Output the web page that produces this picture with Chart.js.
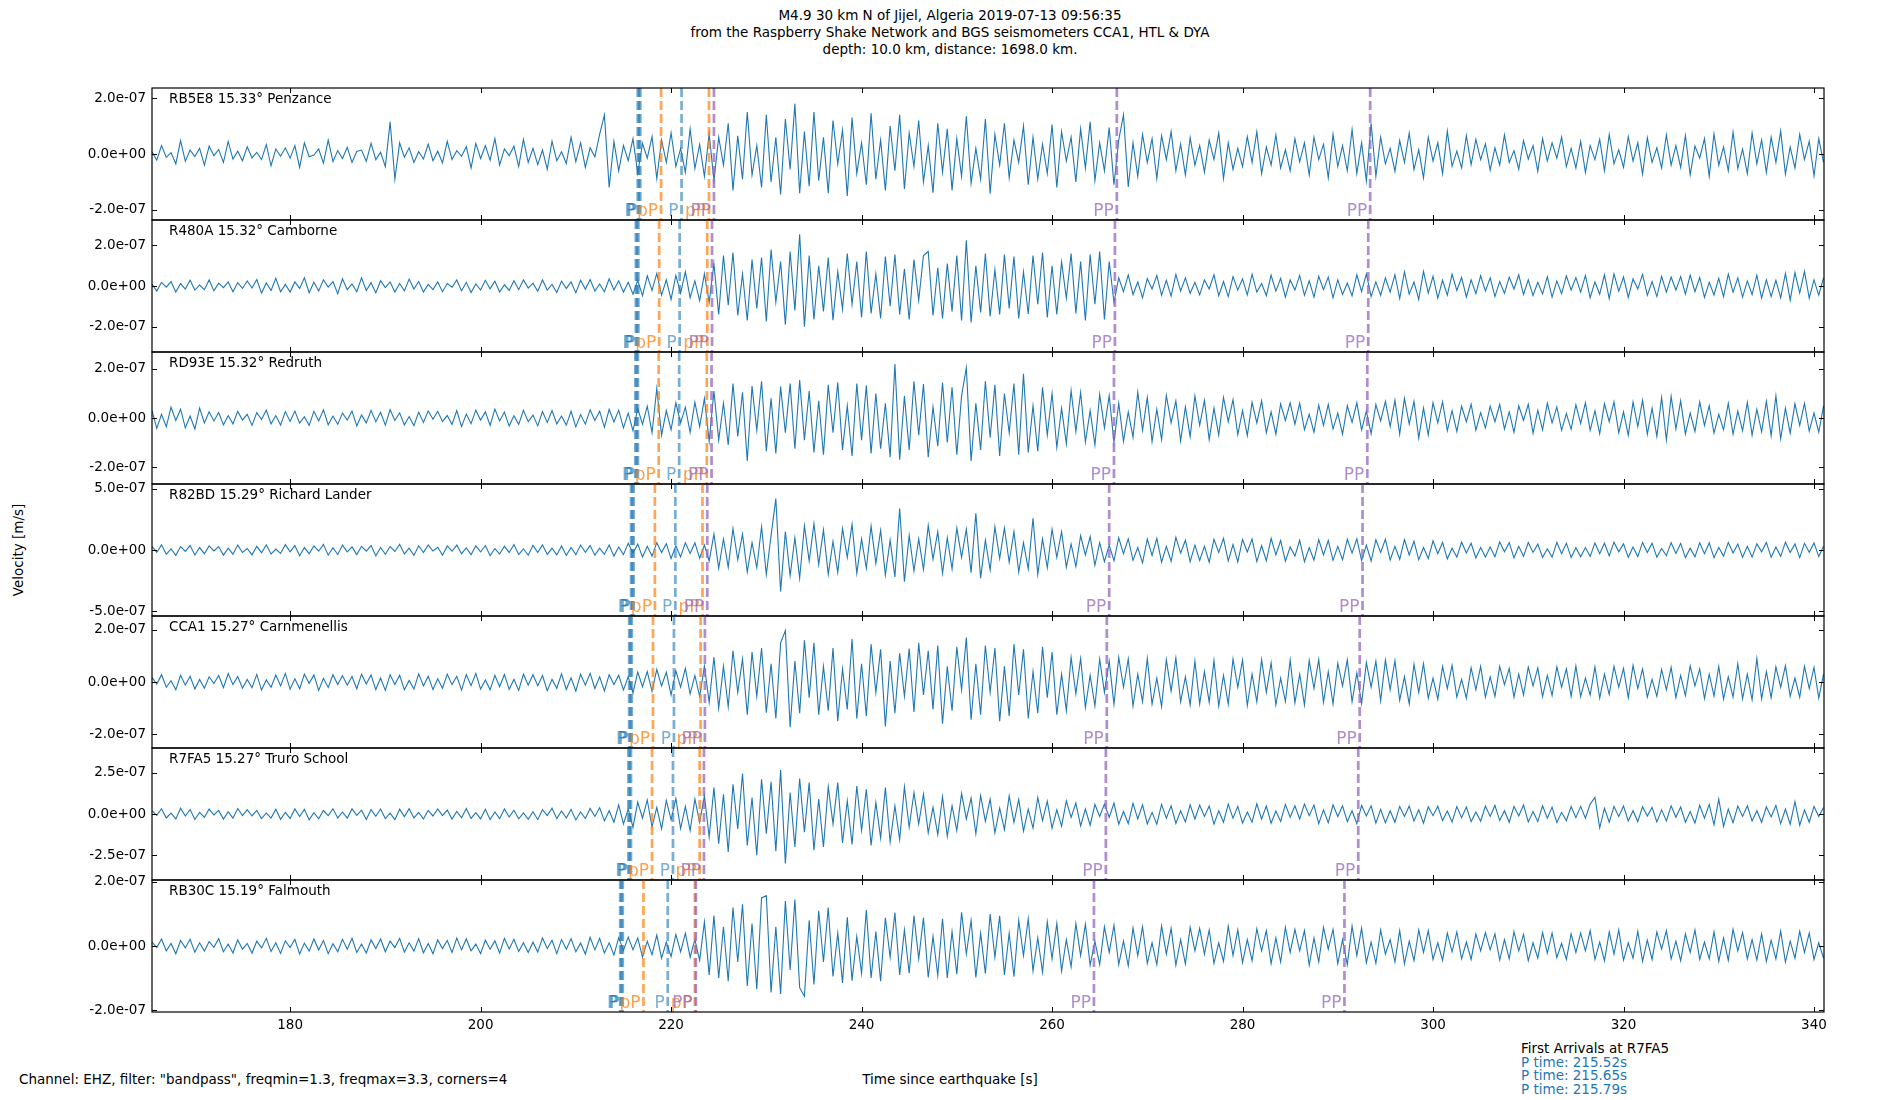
<!DOCTYPE html>
<html>
<head>
<meta charset="utf-8">
<script src="https://cdn.jsdelivr.net/npm/chart.js@4.4.0/dist/chart.umd.min.js"></script>
<style>
    body { margin: 0; background: #fff; }
    #fig { position: relative; width: 1900px; height: 1100px; overflow: hidden; background: #fff; font-family: "DejaVu Sans", sans-serif; color: #000; }
    .txt { position: absolute; font-size: 13.5px; line-height: 17px; white-space: pre; }
    canvas { position: absolute; left: 0; }
</style>
</head>
<body>
<div id="fig">
    <div class="txt" style="left:0;top:7px;width:1900px;text-align:center;">M4.9 30 km N of Jijel, Algeria 2019-07-13 09:56:35
from the Raspberry Shake Network and BGS seismometers CCA1, HTL &amp; DYA
depth: 10.0 km, distance: 1698.0 km.</div>
    <div class="txt" style="left:18px;top:550px;transform:translate(-50%,-50%) rotate(-90deg);">Velocity [m/s]</div>
    <div class="txt" style="left:19px;top:1071px;">Channel: EHZ, filter: "bandpass", freqmin=1.3, freqmax=3.3, corners=4</div>
    <div class="txt" style="left:0;top:1071px;width:1900px;text-align:center;">Time since earthquake [s]</div>
    <div class="txt" style="left:1521px;top:1042px;line-height:13.5px;">First Arrivals at R7FA5
<span style="color:#1f77b4">P time: 215.52s
P time: 215.65s
P time: 215.79s</span></div>
</div>
<script>
// x axis
const xMin = 165.5;
const xMax = 341.05;
const xTicks = [180, 200, 220, 240, 260, 280, 300, 320, 340];

// samples every 0.5 s starting at 165.5 s, values in nm/s
const sampleStart = 165.5;
const sampleStep = 0.5;

const stations = [
    "RB5E8 15.33° Penzance",
    "R480A 15.32° Camborne",
    "RD93E 15.32° Redruth",
    "R82BD 15.29° Richard Lander",
    "CCA1 15.27° Carnmenellis",
    "R7FA5 15.27° Truro School",
    "RB30C 15.19° Falmouth"
];

const yLimits = [2.36e-7, 3.25e-7, 2.69e-7, 5.4e-7, 2.53e-7, 4.0e-7, 2.06e-7];
const yTicks = [
    [-2e-7, 0, 2e-7],
    [-2e-7, 0, 2e-7],
    [-2e-7, 0, 2e-7],
    [-5e-7, 0, 5e-7],
    [-2e-7, 0, 2e-7],
    [-2.5e-7, 0, 2.5e-7],
    [-2e-7, 0, 2e-7]
];

// phase arrivals (s)
const phaseNames = ["P", "P", "P", "pP", "P", "pP", "PP", "PP", "PP"];
const arrRB5E8 = [216.5, 216.63, 216.77, 218.95, 221.1, 223.98, 224.5, 266.8, 293.4];
const arrR480A = [216.3, 216.43, 216.57, 218.75, 220.9, 223.8, 224.3, 266.6, 293.2];
const arrRD93E = [216.25, 216.38, 216.52, 218.7, 220.85, 223.75, 224.25, 266.5, 293.1];
const arrR82BD = [215.8, 215.93, 216.07, 218.3, 220.45, 223.3, 223.8, 266.0, 292.6];
const arrCCA1 = [215.6, 215.73, 215.87, 218.1, 220.3, 223.1, 223.55, 265.75, 292.3];
const arrR7FA5 = [215.52, 215.65, 215.79, 218.0, 220.2, 223.0, 223.45, 265.65, 292.15];
const arrRB30C = [214.66, 214.79, 214.93, 217.1, 219.65, 222.5, 222.6, 264.4, 290.7];

const velRB5E8 = [
    8,-22,30,-12,5,-35,48,-26,14,-9,20,-40,28,-6,16,-30,45,-18,10,-24,
    26,-14,6,-20,34,-42,18,-8,22,-15,30,-48,40,-10,-4,18,-33,50,-27,12,
    -16,24,-30,9,14,-26,38,-20,6,-45,115,-90,40,-12,22,-30,8,-18,35,-24,
    10,-32,45,-20,12,-8,26,-50,38,-16,30,-22,55,-40,18,-6,28,-45,52,-30,
    20,-38,14,-55,46,-24,8,-34,60,-28,40,-48,22,-10,70,140,-120,45,-60,30,
    -24,55,-70,38,-15,62,-88,50,-30,75,-45,20,-66,90,-52,34,-80,72,-95,60,
    -40,110,-130,65,-90,150,-75,30,-120,140,-100,60,-145,125,-55,180,-140,80,-115,150,
    -95,60,-140,120,-35,85,-150,130,-70,40,-110,146,-90,50,-130,100,-60,140,-125,75,
    -45,120,-100,30,-138,110,-65,90,-130,55,-80,135,-105,20,-90,125,-142,70,-40,110,
    -85,50,-30,100,-110,60,-90,35,-70,105,-120,80,-25,60,-100,90,-50,115,-95,40,
    -60,95,-110,50,140,-118,40,-80,70,-30,55,-88,66,-20,80,-60,35,-75,58,-40,
    30,-65,50,-20,75,-88,40,-55,20,-45,62,-30,80,-70,25,-40,68,-50,15,-60,
    55,-28,40,-75,60,-20,35,-85,70,-45,30,-60,88,-70,40,-96,110,-80,60,-35,
    20,-62,48,-30,75,-55,15,-85,60,-25,40,-70,82,-44,10,-50,66,-38,52,-20,
    36,-58,22,-40,68,-30,12,-55,48,-18,30,-62,55,-25,40,-15,60,-45,20,-50,
    45,-66,30,-20,52,-60,70,-35,15,-48,62,-25,40,-72,58,-30,22,-50,68,-40,
    30,-48,66,-75,28,-15,55,-80,72,-40,25,-60,78,-52,18,-70,75,-35,50,-66,
    60,-30,82,-72,25,-50,70,-20,45,-78,55,-30
];
const velR480A = [
    10,-25,18,-6,22,-30,12,-15,28,-20,5,-18,30,-24,14,-8,20,-28,16,-12,
    25,-10,32,-35,15,-22,38,-28,8,-30,20,-12,40,-33,18,-25,30,-5,22,-38,
    35,-18,10,-28,40,-22,16,-34,26,-8,20,-30,12,-24,34,-15,22,-30,8,-18,
    20,-28,12,-6,30,-24,18,-32,10,-20,28,-14,24,-30,6,-22,26,-18,30,-10,
    14,-26,30,-20,8,-32,24,-12,20,-34,28,-16,32,-25,10,-28,36,-20,26,-30,
    18,-40,28,-48,50,-22,62,-45,30,-66,52,-35,70,-58,25,-72,60,-80,110,-140,
    150,-95,165,-145,60,-170,130,-110,140,-175,180,-80,120,-190,170,-120,255,-200,150,-165,
    100,-125,140,-168,70,-115,160,-90,120,-155,170,-135,60,-160,145,-100,155,-140,85,-165,
    130,-70,150,170,-145,90,-160,110,-125,150,-170,225,-180,100,-130,160,-150,80,-140,155,
    -110,145,-160,70,-138,150,-90,165,-155,100,-140,118,-60,160,-135,120,-170,155,-90,170,
    -165,120,-80,40,-28,55,-42,20,-58,36,-15,52,-45,28,-50,57,-24,40,-36,18,
    -44,30,-15,55,-48,22,-52,46,-20,35,-44,58,-30,12,-47,53,-25,38,-55,30,
    -20,52,-46,25,-55,48,-18,44,-58,30,-42,15,-48,55,-28,60,-52,20,-46,40,
    -30,56,-62,70,-40,20,-66,72,-35,48,-60,28,-45,58,-22,42,-54,30,-38,50,
    -25,40,-52,22,-36,44,-15,55,-42,30,-47,18,-40,46,-55,25,-38,50,-20,41,
    -30,52,-58,20,-40,55,-62,60,-25,44,-56,35,-15,58,-46,22,-52,47,-30,44,
    -20,46,-40,54,-28,42,-56,18,-44,38,-52,58,-30,40,-55,25,-42,53,-60,30,
    -52,28,-58,62,-70,66,-35,72,-60,30,-45,40
];
const velRD93E = [
    30,-42,15,-35,44,-10,36,-40,8,-45,40,-20,25,-12,22,-28,10,-24,27,-8,
    15,-30,22,-6,32,-24,10,-29,26,-14,28,-21,5,-30,27,-12,33,-28,8,-26,
    20,-8,28,-32,12,-20,31,-15,23,-29,34,-10,21,-28,6,-31,24,-18,29,-5,
    27,-14,10,-26,30,-35,16,-23,32,-8,25,-30,36,-12,24,-33,9,-26,31,-15,
    12,-32,26,-18,30,-24,8,-29,27,-36,14,-25,34,-10,28,-38,35,-16,32,-40,
    20,-52,38,-25,48,-60,120,-70,30,-48,62,-20,44,-58,65,-35,80,-95,110,-90,
    60,-110,140,-75,105,-175,130,-50,150,-135,80,-145,128,-60,140,-125,155,-90,110,-140,
    70,-150,135,-60,145,-130,50,-155,140,-90,132,-145,100,-125,60,-160,220,-170,90,-130,
    150,-70,138,-160,45,-115,145,-100,125,-150,90,205,-175,60,-130,150,-80,135,-155,100,
    -60,140,-150,180,-140,50,-135,125,-70,100,-120,40,-105,112,-55,104,-98,30,-110,96,
    -40,92,-100,60,-95,25,-78,105,-50,84,-96,35,-88,92,-20,70,-94,45,-76,90,
    -30,72,-88,40,-70,84,-15,75,-68,30,-72,64,-20,70,-60,25,-66,58,-10,62,
    -25,60,-48,15,-58,52,-30,55,-45,20,-66,50,-18,62,-48,28,-64,55,-12,68,
    -35,72,-66,80,-25,68,-82,40,-70,62,-20,66,-52,30,-55,48,-15,56,-50,22,
    -40,48,-15,55,-45,25,-58,50,-10,56,-62,32,-48,60,-20,45,-50,18,-46,54,
    -22,62,-50,30,-64,58,-15,66,-60,25,-70,65,-35,72,-66,40,-75,84,-90,88,
    -45,70,-65,20,-55,66,-30,50,-62,15,-48,60,-66,28,-52,64,-70,35,-56,68,
    -72,90,-85,40,-62,58,-30,60,-54,20,-58,50
];
const velR82BD = [
    30,-18,42,-35,10,-44,28,-12,36,-41,20,-30,33,-8,28,-42,15,-34,40,-20,
    12,-40,30,-22,42,-33,8,-28,44,-15,36,-47,20,-30,34,-10,46,-42,18,-37,
    40,-15,25,-38,30,-10,36,-48,20,-35,28,-12,46,-32,15,-44,35,-20,42,-8,
    22,-42,33,-10,40,-30,18,-38,34,-16,37,-46,12,-33,30,-20,44,-37,10,-43,
    38,-20,42,-36,14,-40,33,-44,20,-38,41,-18,36,-42,15,-35,40,-50,24,-38,
    55,-25,48,-58,30,-50,60,-20,52,-70,35,-56,60,-28,58,-68,40,-90,130,-150,
    90,-140,175,-80,130,-180,60,-145,190,-200,120,420,-340,150,-210,100,-230,200,-90,215,
    -120,165,-200,70,-185,175,-60,210,-190,90,-150,195,-110,160,-205,80,-220,340,-260,120,
    -170,90,-160,200,-75,150,-190,100,-155,180,-60,170,-185,300,-230,80,-165,190,-70,180,
    -100,150,-180,60,-155,260,-200,90,-145,170,-60,150,-140,50,-135,118,-40,110,-125,60,
    -95,40,-88,100,-30,92,-85,20,-105,90,-45,95,-100,30,-92,104,-25,80,-96,40,
    -85,30,-100,88,-20,95,-90,45,-98,86,-15,90,-95,35,-88,96,-40,78,-92,25,
    -50,80,-95,20,-82,86,-40,78,-85,30,-80,88,-25,92,-86,40,-90,84,-20,88,
    -82,30,-76,85,-40,72,-80,20,-70,75,-30,62,-72,15,-58,64,-25,55,-65,20,
    -58,25,-55,66,-15,60,-64,30,-52,61,-20,48,-60,10,-58,62,-30,56,-62,18,
    -55,20,-52,58,-30,55,-48,64,-15,50,-60,25,-54,62,-20,56,-58,12,-46,60,
    -28,54,-62,15,-56,60,-30,58,-64,20,-50,62,-25,48,-60,30,-58,50,-15,62,
    -60,25,-52,64,-20,50,-62,55,-18,58,-54,30
];
const velCCA1 = [
    18,-8,28,-20,5,-30,26,-12,22,-27,10,-24,20,-6,25,-22,32,-10,21,-24,
    10,-22,29,-31,8,-20,27,-15,33,-28,12,-26,30,-5,27,-32,14,-21,28,-10,
    24,-12,21,-26,30,-8,27,-29,15,-32,28,-10,26,-30,6,-27,31,-15,22,-29,
    12,-24,30,-10,22,-31,28,-14,33,-27,8,-30,26,-18,29,-28,10,-32,30,-12,
    28,-14,25,-33,10,-24,31,-29,16,-35,30,-12,33,-25,20,-34,28,-10,26,-30,
    20,-42,38,-18,40,-36,48,-15,37,-50,44,-20,52,-46,25,-55,60,-78,95,-100,
    60,-95,120,-40,88,-125,115,-55,130,-118,70,-140,150,197,-173,80,-120,160,-60,150,
    -125,60,-110,130,-150,50,-105,165,-140,70,-130,145,-40,125,-170,80,-120,110,-55,128,
    -115,150,-50,120,-105,140,-160,60,-110,135,-30,170,-145,70,-125,140,-40,130,-150,60,
    -130,145,-50,125,-140,40,-120,135,-60,115,-125,30,-110,95,-45,90,-98,25,-92,88,
    -40,80,-86,95,-20,88,-92,30,-75,90,-85,15,-94,86,-35,92,-76,20,-88,80,
    -84,40,-78,82,-92,25,-85,88,-20,84,-90,30,-76,86,-40,74,-88,15,-75,85,
    -80,30,-88,82,-25,86,-78,40,-84,72,-15,85,-76,35,-82,74,-20,80,-72,84,
    -30,82,-70,20,-84,68,-40,70,-62,15,-66,60,-25,64,-58,10,-62,55,-30,60,
    -58,20,-55,60,-10,52,-58,30,-50,57,-15,54,-56,25,-52,58,-20,50,-55,61,
    -56,15,-50,58,-62,30,-48,60,-20,52,-60,64,-25,50,-58,10,-55,48,-30,56,
    -60,25,-52,62,-15,50,-64,30,-54,60,-66,20,-58,70,-65,30,-68,90,-65,40,
    -60,58,-20,62,-55,15,-58,60,-25,56,-62,30
];
const velR7FA5 = [
    20,-8,32,-24,5,-30,35,-12,27,-33,10,-20,30,-6,22,-31,14,-25,33,-10,
    26,-12,22,-28,6,-25,29,-32,10,-27,31,-15,28,-35,8,-29,21,-10,32,-24,
    12,-25,31,-8,23,-33,27,-14,30,-28,5,-34,29,-16,32,-24,10,-30,22,-12,
    30,-10,24,-31,15,-23,33,-27,8,-30,29,-34,12,-28,31,-18,23,-29,6,-32,
    14,-33,26,-10,35,-28,18,-24,28,-36,12,-27,34,-15,38,-42,20,-50,55,-60,
    30,-80,72,-25,85,-78,40,-90,82,-35,95,-88,45,-100,92,-50,110,-140,160,-180,
    120,-230,180,-90,245,-190,100,-250,210,-120,195,-225,267,-300,130,-200,215,-110,190,-220,
    90,-200,165,-60,190,-175,80,-185,170,-100,150,-190,70,-145,160,-170,50,-155,165,-80,
    130,-60,120,-115,40,-125,105,-135,50,-100,125,-30,96,-120,112,-45,90,-115,35,-95,
    110,-50,88,-104,30,-85,100,-40,78,-86,25,-74,80,-20,66,-72,30,-68,58,-15,
    60,-20,66,-62,15,-58,64,-30,56,-60,10,-62,58,-25,50,-57,20,-48,55,-30,
    54,-15,48,-62,20,-50,60,-25,46,-55,12,-50,62,-30,48,-56,18,-45,58,-20,
    50,-30,60,-10,54,-58,25,-52,56,-15,50,-46,20,-58,52,-12,50,-55,28,-52,
    20,-50,46,-15,48,-42,25,-56,44,-10,47,-40,18,-48,45,-22,42,-46,12,-44,
    48,-15,52,-40,20,-50,46,-12,55,-48,15,-46,50,-25,42,-52,10,-40,45,-22,
    46,-25,60,100,-85,35,-50,46,-15,48,-42,20,-46,44,-12,40,-48,25,-42,50,
    -20,42,-50,15,-55,52,-25,58,-66,90,-75,30,-52,48,-15,50,-42,20,-50,44,
    -18,52,-58,30,-62,75,-68,25,-50,46,-15,40
];
const velRB30C = [
    12,-5,22,-15,8,-24,17,-6,21,-19,10,-16,14,-4,23,-18,6,-22,19,-10,
    8,-22,15,-6,24,-17,10,-23,16,-5,21,-25,9,-16,22,-12,17,-24,7,-18,
    21,-10,24,-20,6,-22,19,-8,22,-18,15,-5,24,-19,10,-16,23,-21,8,-24,
    19,-8,17,-20,25,-12,22,-15,6,-24,18,-10,16,-22,24,-9,21,-17,10,-20,
    12,-19,25,-8,18,-24,20,-10,23,-18,9,-25,27,-12,24,-22,10,-28,26,-14,
    28,-12,25,-35,15,-27,34,-38,12,-33,36,-18,40,-35,20,-45,75,-90,95,-100,
    60,-110,120,-50,130,-125,70,-135,150,157,-145,60,-150,140,-75,145,-130,-157,80,-120,
    110,-50,120,-95,40,-115,90,-108,30,-85,112,-100,45,-110,88,-35,104,-90,50,-85,
    95,-40,88,-98,30,-92,85,-100,45,-88,105,-25,80,-98,40,-86,100,-35,94,-90,
    40,-96,80,-30,85,-78,25,-82,75,-40,70,-78,20,-65,70,-30,68,-60,15,-58,
    60,-20,65,-58,15,-62,56,-30,60,-54,10,-58,62,-25,55,-60,20,-56,58,-15,
    55,-25,50,-54,10,-48,62,-30,50,-52,20,-46,54,-15,48,-55,25,-50,58,-20,
    52,-15,48,-60,25,-50,58,-10,52,-55,20,-58,62,-30,56,-52,12,-54,50,-25,
    20,-50,48,-56,15,-46,50,-20,48,-42,10,-45,40,-18,44,-40,12,-42,38,-15,
    42,-12,38,-44,20,-40,45,-15,36,-46,10,-38,42,-22,40,-36,8,-42,38,-20,
    40,-15,48,-42,12,-46,44,-25,50,-44,10,-38,46,-48,18,-42,44,-10,48,-40,
    15,-46,38,-20,50,-42,12,-40,44,-48,25,-45,52,-15,42,-40,20,-44,38,-48,
    18,-40,46,-50,15,-38,46,-20,40,-42,10,-38
];

const traces = [velRB5E8, velR480A, velRD93E, velR82BD, velCCA1, velR7FA5, velRB30C];
const arrivals = [arrRB5E8, arrR480A, arrRD93E, arrR82BD, arrCCA1, arrR7FA5, arrRB30C];

const phaseLine = { P: 'rgba(31,119,180,0.6)', pP: 'rgba(255,127,14,0.7)', PP: 'rgba(148,103,189,0.75)' };
const phaseText = { P: 'rgba(31,119,180,0.6)', pP: 'rgba(255,127,14,0.75)', PP: 'rgba(148,103,189,0.75)' };
const FONT = '"DejaVu Sans", sans-serif';

// 2.0e-07 style labels
function sciLabel(v) {
    if (v === 0) return '0.0e+00';
    return v.toExponential(1).replace(/e([+-])(\d)$/, 'e$10$2');
}

// frame, inward ticks, station name and phase markers
function panelPlugin(k) {
    return {
        id: 'panel' + k,
        afterDatasetsDraw(chart) {
            const { ctx, chartArea: a } = chart;
            const x = chart.scales.x;
            ctx.save();
            ctx.lineWidth = 2.7;
            ctx.setLineDash([9, 4]);
            arrivals[k].forEach((t, i) => {
                const px = x.getPixelForValue(t);
                ctx.strokeStyle = phaseLine[phaseNames[i]];
                ctx.beginPath();
                ctx.moveTo(px, a.top);
                ctx.lineTo(px, a.bottom);
                ctx.stroke();
            });
            ctx.setLineDash([]);
            ctx.font = '17px ' + FONT;
            ctx.textAlign = 'right';
            ctx.textBaseline = 'alphabetic';
            arrivals[k].forEach((t, i) => {
                ctx.fillStyle = phaseText[phaseNames[i]];
                ctx.fillText(phaseNames[i], x.getPixelForValue(t) - 3, a.bottom - 4);
            });
            ctx.restore();
        },
        afterDraw(chart) {
            const { ctx, chartArea: a } = chart;
            const x = chart.scales.x, y = chart.scales.y;
            ctx.save();
            ctx.strokeStyle = '#000';
            ctx.lineWidth = 1.2;
            ctx.strokeRect(a.left, a.top, a.right - a.left, a.bottom - a.top);
            ctx.lineWidth = 1;
            ctx.beginPath();
            xTicks.forEach(v => {
                const px = Math.round(x.getPixelForValue(v)) + 0.5;
                ctx.moveTo(px, a.top); ctx.lineTo(px, a.top + 5);
                ctx.moveTo(px, a.bottom); ctx.lineTo(px, a.bottom - 5);
            });
            yTicks[k].forEach(v => {
                const py = Math.round(y.getPixelForValue(v)) + 0.5;
                ctx.moveTo(a.left, py); ctx.lineTo(a.left + 5, py);
                ctx.moveTo(a.right, py); ctx.lineTo(a.right - 5, py);
            });
            ctx.stroke();
            ctx.fillStyle = '#000';
            ctx.font = '13.5px ' + FONT;
            ctx.textAlign = 'left';
            ctx.textBaseline = 'middle';
            ctx.fillText(stations[k], a.left + 17, a.top + 11);
            ctx.restore();
        }
    };
}

const fig = document.getElementById('fig');
stations.forEach((name, k) => {
    const last = k === stations.length - 1;
    const canvas = document.createElement('canvas');
    canvas.width = 1900;
    canvas.height = last ? 172 : 152;
    canvas.style.top = (78 + 132 * k) + 'px';
    canvas.style.width = '1900px';
    canvas.style.height = canvas.height + 'px';
    fig.appendChild(canvas);

    new Chart(canvas, {
        type: 'line',
        data: {
            datasets: [{
                data: traces[k].map((v, i) => ({ x: sampleStart + i * sampleStep, y: v * 1e-9 })),
                borderColor: '#1f77b4',
                borderWidth: 1.1,
                pointRadius: 0,
                tension: 0,
                fill: false
            }]
        },
        options: {
            responsive: false,
            animation: false,
            devicePixelRatio: 1,
            parsing: false,
            layout: { padding: { top: 10, bottom: last ? 0 : 10, left: 0, right: 76 } },
            plugins: { legend: { display: false }, tooltip: { enabled: false } },
            scales: {
                x: {
                    type: 'linear',
                    min: xMin,
                    max: xMax,
                    display: last,
                    grid: { display: false, drawTicks: false },
                    border: { display: false },
                    afterBuildTicks: s => { s.ticks = xTicks.map(v => ({ value: v })); },
                    afterFit: s => { s.height = last ? 30 : 0; s.paddingLeft = 0; s.paddingRight = 0; },
                    ticks: {
                        padding: 5,
                        color: '#000',
                        font: { family: FONT, size: 13.5 },
                        maxRotation: 0,
                        callback: v => String(v)
                    }
                },
                y: {
                    type: 'linear',
                    min: -yLimits[k],
                    max: yLimits[k],
                    grid: { display: false, drawTicks: false },
                    border: { display: false },
                    afterBuildTicks: s => { s.ticks = yTicks[k].map(v => ({ value: v })); },
                    afterFit: s => { s.width = 152; s.paddingTop = 0; s.paddingBottom = 0; },
                    ticks: {
                        padding: 6,
                        color: '#000',
                        font: { family: FONT, size: 13.5 },
                        callback: v => sciLabel(v)
                    }
                }
            }
        },
        plugins: [panelPlugin(k)]
    });
});
</script>
</body>
</html>
